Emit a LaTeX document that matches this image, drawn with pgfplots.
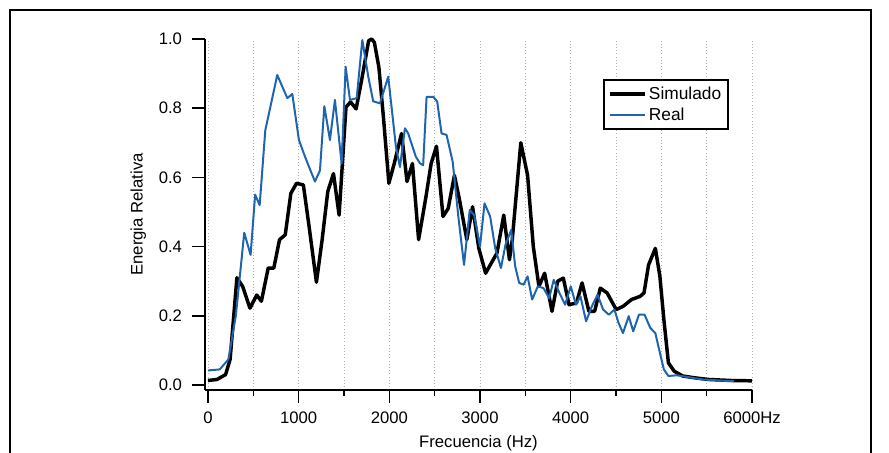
\documentclass[border=0pt]{standalone}
\usepackage{pgfplots}
\pgfplotsset{compat=1.18}
\usepackage{fontspec}
\setmainfont{Liberation Sans}
\definecolor{realblue}{RGB}{30,100,175}
\pgfplotstableread{
f v
0 0.013
100 0.016
194 0.03
244 0.074
319 0.31
382 0.285
463 0.222
538 0.26
589 0.242
664 0.338
726 0.338
789 0.42
852 0.434
914 0.554
977 0.583
1052 0.578
1115 0.458
1196 0.297
1259 0.42
1321 0.559
1384 0.611
1446 0.491
1522 0.803
1572 0.818
1634 0.798
1697 0.885
1772 0.995
1805 1.0
1835 0.99
1885 0.918
1935 0.774
1995 0.583
2054 0.64
2135 0.727
2195 0.588
2255 0.64
2323 0.42
2404 0.544
2461 0.64
2520 0.69
2592 0.487
2649 0.51
2718 0.606
2774 0.535
2855 0.42
2918 0.515
2987 0.395
3062 0.323
3124 0.352
3187 0.381
3262 0.491
3325 0.362
3356 0.42
3450 0.70
3525 0.606
3588 0.40
3650 0.285
3713 0.323
3794 0.213
3857 0.30
3919 0.309
3982 0.232
4064 0.237
4126 0.295
4201 0.213
4264 0.213
4327 0.28
4402 0.266
4502 0.218
4577 0.227
4671 0.247
4765 0.256
4809 0.266
4859 0.347
4934 0.395
4984 0.314
5028 0.189
5078 0.064
5141 0.04
5235 0.026
5360 0.021
5517 0.016
5767 0.013
6000 0.012
}\simdata
\pgfplotstableread{
f v
0 0.042
130 0.045
225 0.074
307 0.2
400 0.44
470 0.376
520 0.55
570 0.52
632 0.736
764 0.896
875 0.829
930 0.841
1003 0.708
1070 0.66
1115 0.63
1180 0.588
1235 0.62
1283 0.806
1345 0.708
1400 0.824
1474 0.64
1518 0.92
1566 0.824
1640 0.829
1702 0.997
1768 0.891
1822 0.82
1896 0.814
1988 0.891
2072 0.69
2117 0.63
2172 0.742
2208 0.727
2292 0.66
2337 0.641
2373 0.635
2411 0.833
2485 0.833
2528 0.819
2576 0.727
2631 0.723
2699 0.645
2761 0.487
2824 0.347
2887 0.506
2937 0.49
3000 0.40
3050 0.525
3112 0.487
3168 0.395
3231 0.338
3281 0.405
3344 0.448
3388 0.343
3432 0.295
3481 0.29
3525 0.314
3575 0.247
3638 0.285
3700 0.28
3763 0.251
3813 0.304
3876 0.266
3939 0.232
4001 0.285
4058 0.232
4108 0.256
4170 0.184
4233 0.227
4296 0.261
4358 0.218
4421 0.203
4483 0.218
4527 0.18
4577 0.15
4640 0.199
4690 0.155
4753 0.203
4815 0.203
4878 0.165
4934 0.15
4984 0.093
5028 0.045
5078 0.026
5172 0.028
5266 0.024
5454 0.016
5705 0.012
5800 0.011
}\realdata
\begin{document}
\begin{tikzpicture}
\path[use as bounding box] (0pt,0pt) rectangle (666.75pt,339.75pt);
\draw[line width=1.3pt] (7.5pt,-2pt) -- (7.5pt,332.25pt) -- (653.25pt,332.25pt) -- (653.25pt,-2pt);
\begin{axis}[
  scale only axis,
  anchor=south west,
  at={(153.75pt,47.25pt)},
  width=410.25pt, height=263.25pt,
  xmin=-33, xmax=6000,
  ymin=-0.0145, ymax=1.0,
  axis x line*=bottom, axis y line*=left,
  axis line style={line width=1.1pt},
  tick align=outside,
  major tick length=9.75pt,
  minor tick length=4.5pt,
  every tick/.style={black, line width=1.1pt},
  xtick={0,1000,2000,3000,4000,5000,6000},
  xticklabels={0,1000,2000,3000,4000,5000,6000Hz},
  minor xtick={500,1500,2500,3500,4500,5500},
  ytick={0,0.2,0.4,0.6,0.8,1.0},
  yticklabels={0.0,0.2,0.4,0.6,0.8,1.0},
  xmajorgrids, xminorgrids,
  major grid style={gray!60, dotted, line width=0.6pt},
  minor grid style={gray!60, dotted, line width=0.6pt},
  tick label style={font=\fontsize{12.5}{14}\selectfont},
  xticklabel style={yshift=-3pt},
  yticklabel style={xshift=-4pt},
  label style={font=\fontsize{12.5}{14}\selectfont},
  xlabel={Frecuencia (Hz)},
  ylabel={Energia Relativa},
  xlabel style={at={(axis description cs:0.5,0)}, anchor=center, yshift=-40pt},
  ylabel style={at={(axis description cs:-0.122,0.5)}, anchor=center},
  legend style={at={(axis description cs:0.728,0.886)}, anchor=north west,
    draw=black, line width=1.4pt, font=\fontsize{13}{15}\selectfont,
    inner xsep=3pt, inner ysep=3pt, row sep=1pt,
    /tikz/every even column/.append style={column sep=2pt}},
  legend cell align=left,
  legend image code/.code={\draw[#1] (0pt,0pt) -- (26pt,0pt);},
  clip=false,
]
\addplot[black, line width=2.6pt, line join=round] table[x=f,y=v] {\simdata};
\addlegendentry{Simulado}
\addplot[realblue, line width=1.5pt, line join=round] table[x=f,y=v] {\realdata};
\addlegendentry{Real}
\end{axis}
\end{tikzpicture}
\end{document}
